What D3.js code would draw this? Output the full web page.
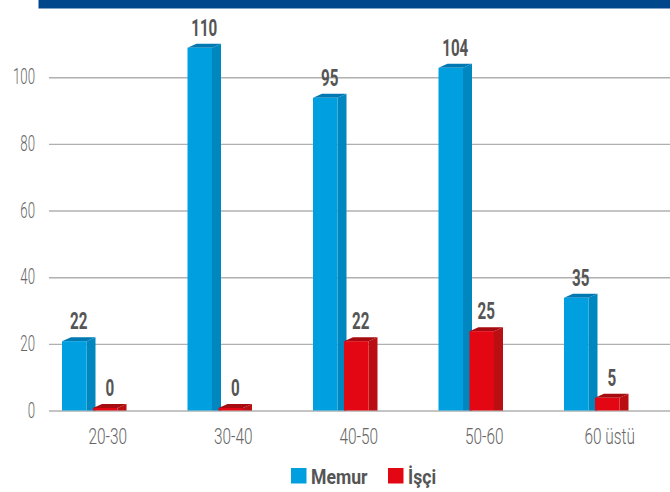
<!DOCTYPE html>
<html>
<head>
<meta charset="utf-8">
<script src="https://cdn.jsdelivr.net/npm/d3@7"></script>
<style>
  html, body { margin: 0; padding: 0; background: #fff; }
  svg { display: block; }
  text { font-family: Roboto, "Liberation Sans", sans-serif; }
</style>
</head>
<body>
<svg id="chart" width="670" height="492"></svg>
<script>
const categories = ["20-30", "30-40", "40-50", "50-60", "60 üstü"];
const memur = [22, 110, 95, 104, 35];
const isci = [0, 0, 22, 25, 5];
const yTicks = [0, 20, 40, 60, 80, 100];
const seriesNames = ["Memur", "İşçi"];

const colors = {
  Memur: { front: "#009fe0", side: "#0087c0", top: "#0079b3" },
  "İşçi": { front: "#e30613", side: "#b90f13", top: "#a50b0f" }
};

const svg = d3.select("#chart");

// top banner
svg.append("rect").attr("x", 38.5).attr("y", 0).attr("width", 632).attr("height", 8.5).attr("fill", "#00468b");

const x = d3.scaleBand().domain(categories).range([45, 672.5]);
const y = d3.scaleLinear().domain([0, 100]).range([410.5, 77.2]);

// helper for condensed text
function ctext(g, px, py, str, opts) {
  const t = g.append("g").attr("transform", `translate(${px},${py}) scale(${opts.sx},1)`)
    .append("text")
    .attr("x", 0).attr("y", 0)
    .attr("text-anchor", opts.anchor || "middle")
    .attr("font-size", opts.size)
    .attr("font-weight", opts.weight || 400)
    .attr("fill", opts.fill || "#666")
    .text(str);
  return t;
}

// gridlines + y axis
const yAxis = d3.axisLeft(y).tickValues(yTicks).tickSize(-(670 - 49)).tickPadding(14).tickFormat(d3.format("d"));
const gy = svg.append("g").attr("transform", "translate(49,0)").call(yAxis);
gy.select(".domain").remove();
gy.selectAll(".tick line").attr("stroke", "#b0b0b0").attr("stroke-width", 1.4);
gy.selectAll(".tick text").remove();
yTicks.forEach(v => {
  ctext(svg, 35, y(v) + 7, String(v), { sx: 0.6, size: 22, anchor: "end", fill: "#666", weight: 300 });
});

// x labels
categories.forEach(c => {
  ctext(svg, x(c) + x.bandwidth() / 2, 443.5, c, { sx: 0.7, size: 22, fill: "#666", weight: 300 });
});

// 3D bars
const w = 24.5, dx = 9, dy = 4;
const base = y(0);
const barsG = svg.append("g");
function bar3d(x0, v, col) {
  let top = y(v) + dy;
  if (base - top < 2.5) top = base - 2.5;
  const g = barsG.append("g");
  g.append("polygon")
    .attr("points", [[x0 + w, top], [x0 + w + dx, top - dy], [x0 + w + dx, base], [x0 + w, base]].join(" "))
    .attr("fill", col.side);
  g.append("polygon")
    .attr("points", [[x0, top], [x0 + dx, top - dy], [x0 + w + dx, top - dy], [x0 + w, top]].join(" "))
    .attr("fill", col.top);
  g.append("rect").attr("x", x0).attr("y", top).attr("width", w).attr("height", base - top).attr("fill", col.front);
  return top;
}

categories.forEach((c, i) => {
  const bx = x(c) + 17;
  const rx = bx + 31;
  const t1 = bar3d(bx, memur[i], colors.Memur);
  const t2 = bar3d(rx, isci[i], colors["İşçi"]);
  ctext(svg, bx + (w + dx) / 2, t1 - 12, String(memur[i]), { sx: 0.66, size: 23, weight: 700, fill: "#555" });
  ctext(svg, rx + (w + dx) / 2, t2 - 12, String(isci[i]), { sx: 0.66, size: 23, weight: 700, fill: "#555" });
});

// legend
const legend = [
  { name: seriesNames[0], x: 291, col: colors.Memur.front },
  { name: seriesNames[1], x: 388, col: colors["İşçi"].front }
];
legend.forEach(l => {
  svg.append("rect").attr("x", l.x).attr("y", 468).attr("width", 15.5).attr("height", 15.5).attr("fill", l.col);
  ctext(svg, l.x + 20, 483.5, l.name, { sx: 0.84, size: 21, weight: 700, fill: "#555", anchor: "start" });
});
</script>
</body>
</html>
